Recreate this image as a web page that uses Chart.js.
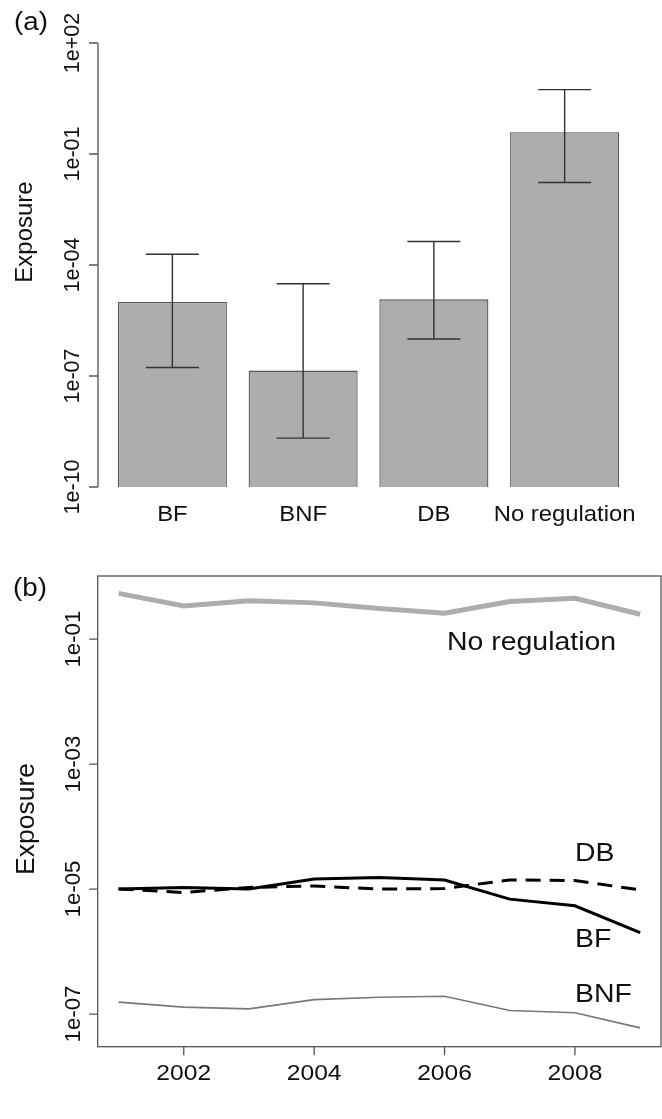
<!DOCTYPE html>
<html>
<head>
<meta charset="utf-8">
<script src="https://cdn.jsdelivr.net/npm/chart.js@4.4.0/dist/chart.umd.min.js"></script>
<style>
  body { margin: 0; background: #fff; }
  #wrap { position: relative; width: 662px; height: 1119px; }
  canvas { position: absolute; left: 0; }
</style>
</head>
<body>
<div id="wrap">
  <canvas id="barChart" width="662" height="540" style="top:0"></canvas>
  <canvas id="lineChart" width="662" height="579" style="top:540px"></canvas>
</div>
<script>
// panel (a): mean exposure per regulation type, with error bars
const groups = ['BF', 'BNF', 'DB', 'No regulation'];
const meanExposure = [1.0e-5, 1.4e-7, 1.18e-5, 0.39];
const errLow = [1.7e-7, 2.1e-9, 1.0e-6, 0.017];
const errHigh = [1.95e-4, 3.1e-5, 4.3e-4, 5.5];
const barTicks = [1e2, 1e-1, 1e-4, 1e-7, 1e-10];
const barTickLabels = ['1e+02', '1e-01', '1e-04', '1e-07', '1e-10'];

// panel (b): exposure over time
const years = [2001, 2002, 2003, 2004, 2005, 2006, 2007, 2008, 2009];
const noReg = [0.54, 0.34, 0.41, 0.38, 0.31, 0.26, 0.40, 0.45, 0.25];
const bfSeries = [1.0e-5, 1.06e-5, 1.0e-5, 1.45e-5, 1.53e-5, 1.39e-5, 6.9e-6, 5.4e-6, 2.0e-6];
const dbSeries = [1.0e-5, 8.8e-6, 1.06e-5, 1.12e-5, 1.0e-5, 1.02e-5, 1.4e-5, 1.37e-5, 9.7e-6];
const bnfSeries = [1.55e-7, 1.29e-7, 1.21e-7, 1.7e-7, 1.86e-7, 1.93e-7, 1.14e-7, 1.05e-7, 6.0e-8];
const lineYTicks = [1e-1, 1e-3, 1e-5, 1e-7];
const lineYTickLabels = ['1e-01', '1e-03', '1e-05', '1e-07'];
const lineXTicks = [2002, 2004, 2006, 2008];
// text labels placed in data space (left/centre x, baseline y)
const lineLabels = [
  { text: 'No regulation', x: 2007.335, y: 0.0658, align: 'center' },
  { text: 'DB', x: 2008, y: 2.82e-5, align: 'left' },
  { text: 'BF', x: 2008, y: 1.17e-6, align: 'left' },
  { text: 'BNF', x: 2008, y: 1.55e-7, align: 'left' }
];

const FONT = '"Liberation Sans", Arial, Helvetica, sans-serif';
const SX = 1.11; // the figure is a bit wider than tall, text too
const AXIS = '#555';
const INK = '#111';

function hText(ctx, txt, x, y, size, align) {
  ctx.save();
  ctx.translate(x, y);
  ctx.scale(SX, 1);
  ctx.font = size + 'px ' + FONT;
  ctx.fillStyle = INK;
  ctx.textAlign = align || 'center';
  ctx.textBaseline = 'alphabetic';
  ctx.fillText(txt, 0, 0);
  ctx.restore();
}

function vText(ctx, txt, x, y, size) {
  ctx.save();
  ctx.translate(x, y);
  ctx.rotate(-Math.PI / 2);
  ctx.font = size + 'px ' + FONT;
  ctx.fillStyle = INK;
  ctx.textAlign = 'center';
  ctx.textBaseline = 'alphabetic';
  ctx.fillText(txt, 0, 0);
  ctx.restore();
}

// ============ (a) bar chart ============
const barDecor = {
  id: 'barDecor',
  afterDatasetsDraw(chart) {
    const ctx = chart.ctx;
    const y = chart.scales.y;
    const meta = chart.getDatasetMeta(0);
    ctx.save();
    ctx.strokeStyle = '#333';
    ctx.lineWidth = 1.4;
    meta.data.forEach((bar, i) => {
      const yHi = y.getPixelForValue(errHigh[i]);
      const yLo = y.getPixelForValue(errLow[i]);
      ctx.beginPath();
      ctx.moveTo(bar.x, yHi); ctx.lineTo(bar.x, yLo);
      ctx.moveTo(bar.x - 26.5, yHi); ctx.lineTo(bar.x + 26.5, yHi);
      ctx.moveTo(bar.x - 26.5, yLo); ctx.lineTo(bar.x + 26.5, yLo);
      ctx.stroke();
    });
    ctx.restore();
  },
  afterDraw(chart) {
    const ctx = chart.ctx;
    const y = chart.scales.y;
    const x = chart.scales.x;
    const ax = 98;
    ctx.save();
    ctx.strokeStyle = AXIS;
    ctx.lineWidth = 1.3;
    ctx.beginPath();
    ctx.moveTo(ax, y.getPixelForValue(barTicks[0]));
    ctx.lineTo(ax, y.getPixelForValue(barTicks[barTicks.length - 1]));
    barTicks.forEach(t => {
      const py = y.getPixelForValue(t);
      ctx.moveTo(ax, py); ctx.lineTo(ax - 9, py);
    });
    ctx.stroke();
    ctx.restore();
    barTicks.forEach((t, i) => vText(ctx, barTickLabels[i], 78.5, y.getPixelForValue(t), 21.5));
    groups.forEach((g, i) => hText(ctx, g, x.getPixelForValue(i), 520.5, 21.5));
    vText(ctx, 'Exposure', 32, 232, 24);
    hText(ctx, '(a)', 14, 29.5, 25, 'left');
  }
};

new Chart(document.getElementById('barChart').getContext('2d'), {
  type: 'bar',
  data: {
    labels: groups,
    datasets: [{
      data: meanExposure,
      backgroundColor: '#adadad',
      borderColor: '#555',
      borderWidth: 1.3,
      categoryPercentage: 1,
      barPercentage: 0.834
    }]
  },
  options: {
    responsive: false,
    animation: false,
    devicePixelRatio: 1,
    layout: { padding: { left: 107, right: 32, top: 43, bottom: 53 } },
    plugins: { legend: { display: false }, tooltip: { enabled: false } },
    scales: {
      x: { type: 'category', display: false, offset: true },
      y: { type: 'logarithmic', display: false, min: 1e-10, max: 1e2 }
    }
  },
  plugins: [barDecor]
});

// ============ (b) line chart ============
const lineDecor = {
  id: 'lineDecor',
  afterDraw(chart) {
    const ctx = chart.ctx;
    const { left, right, top, bottom } = chart.chartArea;
    const x = chart.scales.x;
    const y = chart.scales.y;
    ctx.save();
    ctx.strokeStyle = AXIS;
    ctx.lineWidth = 1.3;
    ctx.strokeRect(left, top, right - left, bottom - top);
    ctx.beginPath();
    lineYTicks.forEach(t => {
      const py = y.getPixelForValue(t);
      ctx.moveTo(left, py); ctx.lineTo(left - 8.5, py);
    });
    lineXTicks.forEach(t => {
      const px = x.getPixelForValue(t);
      ctx.moveTo(px, bottom); ctx.lineTo(px, bottom + 8.5);
    });
    ctx.stroke();
    ctx.restore();
    lineYTicks.forEach((t, i) => vText(ctx, lineYTickLabels[i], 80, y.getPixelForValue(t), 22.2));
    lineXTicks.forEach(t => hText(ctx, String(t), x.getPixelForValue(t), 540, 22.2));
    lineLabels.forEach(l => hText(ctx, l.text, x.getPixelForValue(l.x), y.getPixelForValue(l.y), 25.6, l.align));
    vText(ctx, 'Exposure', 34, 279, 26.5);
    hText(ctx, '(b)', 13, 56, 25, 'left');
  }
};

const pts = vals => years.map((yr, i) => ({ x: yr, y: vals[i] }));

new Chart(document.getElementById('lineChart').getContext('2d'), {
  type: 'line',
  data: {
    datasets: [
      { label: 'BF', data: pts(bfSeries), borderColor: '#000', borderWidth: 3 },
      { label: 'DB', data: pts(dbSeries), borderColor: '#000', borderWidth: 3, borderDash: [15, 9] },
      { label: 'BNF', data: pts(bnfSeries), borderColor: '#777', borderWidth: 1.6 },
      { label: 'No regulation', data: pts(noReg), borderColor: '#adadad', borderWidth: 5 }
    ]
  },
  options: {
    responsive: false,
    animation: false,
    devicePixelRatio: 1,
    elements: { point: { radius: 0 }, line: { tension: 0, borderCapStyle: 'butt' } },
    layout: { padding: { left: 97.7, right: 1, top: 36, bottom: 72.3 } },
    plugins: { legend: { display: false }, tooltip: { enabled: false } },
    scales: {
      x: { type: 'linear', display: false, min: 2000.68, max: 2009.32 },
      y: { type: 'logarithmic', display: false, min: 3.12e-8, max: 1.023 }
    }
  },
  plugins: [lineDecor]
});
</script>
</body>
</html>
